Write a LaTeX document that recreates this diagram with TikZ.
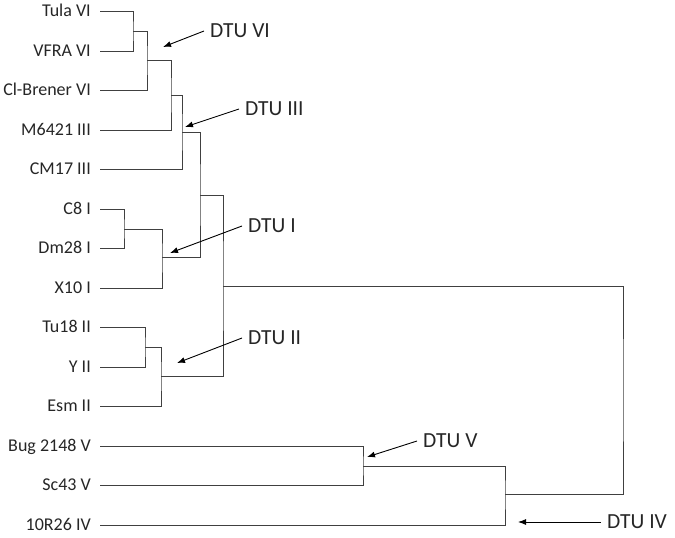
\documentclass[tikz,border=0pt]{standalone}
\usepackage{fontspec}
\setmainfont{Carlito}
\usetikzlibrary{positioning,arrows.meta}

\begin{document}
\begin{tikzpicture}[x=1pt,y=-1pt,
    leaf/.style={anchor=east,inner xsep=9pt,inner ysep=0pt,text height=11.8pt,text depth=0pt,font=\fontsize{18}{18}\selectfont,text=black!85},
    dtu/.style={anchor=west,inner xsep=6pt,inner ysep=0pt,text height=13.5pt,text depth=0pt,font=\fontsize{21.5}{22}\selectfont,text=black!85},
    branch/.style={draw=black!75,line width=0.9pt},
    pointer/.style={draw=black,line width=0.9pt,-{Latex[length=8pt,width=6pt]}}]
    \useasboundingbox (0,0) rectangle (675,538);

    % leaves
    \node[leaf] (tula) at (100,11) {Tula VI};
    \node[leaf] (vfra) at (100,51) {VFRA VI};
    \node[leaf] (clbrener) at (100,90) {Cl-Brener VI};
    \node[leaf] (m6421) at (100,130) {M6421 III};
    \node[leaf] (cm17) at (100,169) {CM17 III};
    \node[leaf] (c8) at (100,209) {C8 I};
    \node[leaf] (dm28) at (100,248) {Dm28 I};
    \node[leaf] (x10) at (100,288) {X10 I};
    \node[leaf] (tu18) at (100,327) {Tu18 II};
    \node[leaf] (yii) at (100,367) {Y II};
    \node[leaf] (esm) at (100,406) {Esm II};
    \node[leaf] (bug) at (100,446) {Bug 2148 V};
    \node[leaf] (sc43) at (100,485) {Sc43 V};
    \node[leaf] (r26) at (100,525) {10R26 IV};

    % joins
    \coordinate (j-tv) at (133,31);
    \coordinate (j-vi) at (147,60);
    \coordinate (j-m) at (171,95);
    \coordinate (j-iii) at (182,132);
    \coordinate (j-c8) at (124,229);
    \coordinate (j-i) at (162,257);
    \coordinate (j-a) at (200,195);
    \coordinate (j-tu) at (145,347);
    \coordinate (j-ii) at (161,376);
    \coordinate (j-b) at (223,286);
    \coordinate (j-v) at (363,466);
    \coordinate (j-iv) at (505,494);
    \coordinate (root) at (623,390);

    \draw[branch] (tula.east) -| (j-tv) |- (vfra.east);
    \draw[branch] (j-tv) -| (j-vi) |- (clbrener.east);
    \draw[branch] (j-vi) -| (j-m) |- (m6421.east);
    \draw[branch] (j-m) -| (j-iii) |- (cm17.east);
    \draw[branch] (c8.east) -| (j-c8) |- (dm28.east);
    \draw[branch] (j-c8) -| (j-i) |- (x10.east);
    \draw[branch] (j-iii) -| (j-a) |- (j-i);
    \draw[branch] (tu18.east) -| (j-tu) |- (yii.east);
    \draw[branch] (j-tu) -| (j-ii) |- (esm.east);
    \draw[branch] (j-a) -| (j-b) |- (j-ii);
    \draw[branch] (bug.east) -| (j-v) |- (sc43.east);
    \draw[branch] (j-v) -| (j-iv) |- (r26.east);
    \draw[branch] (j-b) -| (root) |- (j-iv);

    % DTU labels
    \node[dtu] (dtu6) at (204,31) {DTU VI};
    \node[dtu] (dtu3) at (239,109) {DTU III};
    \node[dtu] (dtu1) at (242,226) {DTU I};
    \node[dtu] (dtu2) at (242,338) {DTU II};
    \node[dtu] (dtu5) at (417,441) {DTU V};
    \node[dtu] (dtu4) at (601,522) {DTU IV};

    \coordinate (t6) at (163,47);
    \coordinate (t3) at (185,127);
    \coordinate (t1) at (170,253);
    \coordinate (t2) at (177,363);
    \coordinate (t5) at (367,457);
    \coordinate (t4) at (518,522);

    \draw[pointer] (dtu6.west) -- (t6);
    \draw[pointer] (dtu3.west) -- (t3);
    \draw[pointer] (dtu1.west) -- (t1);
    \draw[pointer] (dtu2.west) -- (t2);
    \draw[pointer] (dtu5.west) -- (t5);
    \draw[pointer] (dtu4.west) -- (t4);
\end{tikzpicture}
\end{document}
